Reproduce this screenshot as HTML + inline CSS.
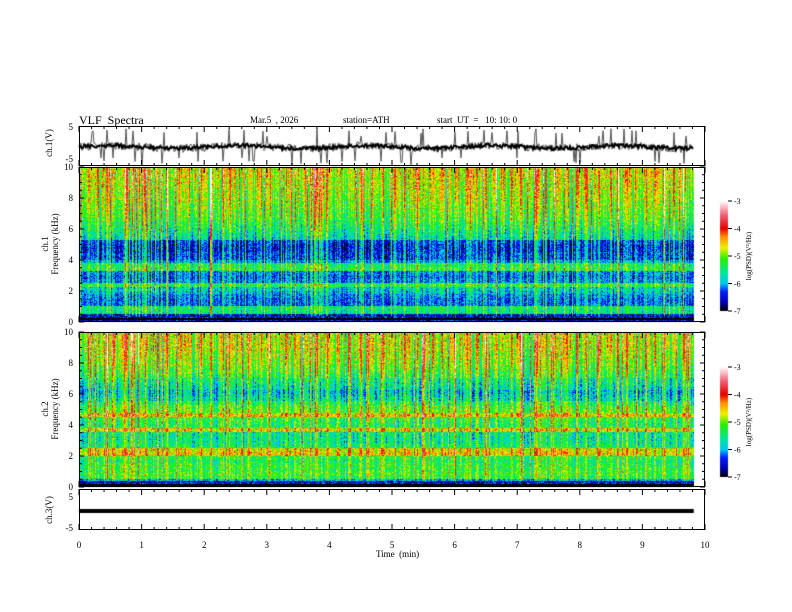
<!DOCTYPE html>
<html><head><meta charset="utf-8"><style>
body{margin:0;background:#fff;width:792px;height:612px;overflow:hidden;position:relative;font-family:"Liberation Serif",serif;}
.t{position:absolute;font-size:9px;color:#000;white-space:nowrap;}
canvas,svg{position:absolute;left:0;top:0;}
</style></head><body>
<canvas id="c" width="792" height="612"></canvas>
<svg id="s" width="792" height="612"></svg>
<div class="t" style="left:79px;top:113px;font-size:12px">VLF &nbsp;Spectra</div>
<div class="t" style="left:250px;top:115px">Mar.5 &nbsp;, 2026</div>
<div class="t" style="left:343px;top:115px">station=ATH</div>
<div class="t" style="left:437px;top:115px">start &nbsp;UT &nbsp;= &nbsp;&nbsp;10: 10: 0</div>
<div class="t" style="left:376px;top:549px">Time &nbsp;(min)</div>
<script>
// ---- data ----
const timeTicks=[0,1,2,3,4,5,6,7,8,9,10];
const freqTicks=[0,2,4,6,8,10];
const cbTicks=[-3,-4,-5,-6,-7];
// log PSD profile per 0.25 kHz band (index 0 = 0-0.25 kHz ... 39 = 9.75-10 kHz), channel 1
const prof1=[-6.8,-6.6,-5.6,-5.5,-6.2,-6.2,-6.1,-5.9,-5.8,-5.3,-6.1,-6.2,-6.1,-5.3,-5.4,-6.0,-6.3,-6.3,-6.4,-6.4,-6.3,-5.7,-5.6,-5.5,-5.4,-5.3,-5.2,-5.1,-5.1,-5.0,-5.0,-4.9,-4.9,-4.9,-4.8,-4.8,-4.8,-4.7,-4.7,-4.7];
// channel 2
const prof2=[-6.8,-6.0,-5.3,-5.2,-5.3,-5.3,-5.4,-5.3,-4.6,-4.7,-5.5,-5.6,-5.6,-5.6,-4.7,-5.4,-5.4,-5.3,-4.6,-5.1,-5.2,-5.4,-5.7,-5.8,-5.9,-5.7,-5.6,-5.5,-5.3,-5.2,-5.1,-5.0,-5.0,-4.9,-4.9,-4.8,-4.8,-4.8,-4.8,-4.8];
// impulsive (sferic) stripes: time in min, strength in log units
const stripeT=[0.15,0.3,0.45,0.55,0.75,0.85,0.95,1.05,1.25,1.4,1.6,1.75,1.95,2.1,2.3,2.4,2.55,2.75,2.9,3.05,3.3,3.45,3.6,3.8,3.95,4.15,4.3,4.5,4.7,4.85,5.05,5.2,5.4,5.5,5.65,5.8,6.0,6.2,6.35,6.5,6.65,6.9,7.05,7.3,7.45,7.6,7.8,7.95,8.1,8.3,8.5,8.6,8.75,8.9,9.05,9.2,9.35,9.5,9.65];
const stripeA=[1.0,0.7,1.1,0.8,1.3,1.4,0.9,1.1,0.8,1.0,0.7,0.9,0.8,1.1,1.0,1.3,0.8,0.9,1.1,1.0,0.8,1.1,0.9,1.4,1.0,0.8,0.9,1.1,0.7,0.9,1.0,1.1,1.4,1.3,0.9,1.0,1.1,0.8,1.0,0.9,0.8,1.1,1.0,1.4,0.8,1.0,1.1,0.9,1.0,1.3,1.1,1.4,0.9,1.0,1.1,0.8,1.0,1.1,0.9];
const dataEnd=9.82;
// ch1 waveform spike times and amplitudes (V)
const spikeT=[0.2,0.35,0.55,0.75,0.9,1.0,1.35,1.6,1.9,2.4,2.6,2.8,3.0,3.4,3.8,4.2,4.5,4.9,5.3,5.5,5.8,6.1,6.6,7.0,7.3,7.9,8.3,8.5,8.7,9.2,9.5,9.7];
const spikeA=[4,-3,-3,5,-4,-5,4,-3,-4,5,-3,-4,3,-5,5,-4,3,4,-5,5,-3,-3,4,-3,5,-4,3,5,5,-4,4,3];
// ---- layout ----
const X0=79,X1=705;
const xs=t=>X0+(X1-X0)*t/10;
const P1={top:126,bot:166}, S1={top:167,bot:322}, S2={top:332,bot:487}, P3={top:489,bot:530};
function h(i,j){let n=(i*374761393+j*668265263)|0;n=(n^(n>>>13))*1274126177|0;return ((n^(n>>>16))>>>0)/4294967296;}
const stops=[[-7,0,0,0],[-6.7,0,0,170],[-6.3,0,30,255],[-6.0,0,200,240],[-5.6,0,230,150],[-5.1,40,240,0],[-4.7,240,240,0],[-4.3,255,140,0],[-4.0,230,0,0],[-3.5,240,100,120],[-3,255,255,255]];
function col(v){if(v<=-7)return stops[0];if(v>=-3)return stops[stops.length-1];for(let k=1;k<stops.length;k++){if(v<=stops[k][0]){const a=stops[k-1],b=stops[k],f=(v-a[0])/(b[0]-a[0]);return [0,a[1]+(b[1]-a[1])*f,a[2]+(b[2]-a[2])*f,a[3]+(b[3]-a[3])*f];}}}
const cv=document.getElementById('c'),ctx=cv.getContext('2d');
function spectro(P,prof,seed){
  const W=Math.round(xs(dataEnd)-X0),H=P.bot-P.top;
  const img=ctx.createImageData(W,H);
  const colStr=[];
  for(let x=0;x<W;x++){const t=x/(X1-X0)*10;let s=0;
    for(let k=0;k<stripeT.length;k++){const d=Math.abs(t-stripeT[k]);if(d<0.025)s=Math.max(s,stripeA[k]*(1-d/0.025));}
    const r=h(x,seed);s+=(r-0.5)*1.3+(r>0.93?0.8:0);colStr.push(s);}
  for(let y=0;y<H;y++){const f=10*(H-1-y)/H;const bi=Math.min(prof.length-1,Math.floor(f/0.25));
    for(let x=0;x<W;x++){let v=prof[bi];const hf=f/10;
      v+=colStr[x]*(0.5+0.5*hf)+(h(x+seed,y)-0.5)*0.8;
      if(f<0.35) v=(h(y,seed)>0.6)?-7:-6.5+(h(x,y)-0.5);
      const c=col(v),o=(y*W+x)*4;img.data[o]=c[1];img.data[o+1]=c[2];img.data[o+2]=c[3];img.data[o+3]=255;}}
  ctx.putImageData(img,X0,P.top);
}
spectro(S1,prof1,11);spectro(S2,prof2,29);
// colorbars
function cbar(top){const g=ctx.createLinearGradient(0,top+110,0,top);
  stops.forEach(s=>g.addColorStop((s[0]+7)/4,`rgb(${s[1]},${s[2]},${s[3]})`));ctx.fillStyle=g;ctx.fillRect(720,top,8,110);}
cbar(201);cbar(367);
// waveform ch1
const yv=v=>(P1.top+P1.bot)/2+1-v*(P1.bot-P1.top)/11;
ctx.strokeStyle='#555';ctx.lineWidth=1;ctx.beginPath();
for(let x=0;x<=xs(dataEnd)-X0;x++){const t=x/(X1-X0)*10;const r=h(x,3);let v=Math.sin(t*3.1)*0.4+(r-0.5)*2.5+(r>0.95?3:0)-(r<0.04?3:0);
  for(let k=0;k<spikeT.length;k++)if(Math.abs(t-spikeT[k])<0.008)v=spikeA[k];
  const y=yv(v);x?ctx.lineTo(X0+x,y):ctx.moveTo(X0,y);}
ctx.stroke();
ctx.strokeStyle='#000';ctx.lineWidth=2;ctx.beginPath();
for(let x=0;x<=xs(dataEnd)-X0;x+=1){const t=x/(X1-X0)*10;ctx.lineTo(X0+x,yv(Math.sin(t*3.1)*0.4+(h(x,7)-0.5)*1.0));}
ctx.stroke();
// ch3 flat line
ctx.fillStyle='#000';ctx.fillRect(X0,509,xs(dataEnd)-X0,4);
// ---- axes (svg) ----
const S=document.getElementById('s');const NS='http://www.w3.org/2000/svg';
function add(tag,a,name){const e=document.createElementNS(NS,tag);for(const k in a)e.setAttribute(k,a[k]);
  
  
  S.appendChild(e);return e;}
function txt(x,y,s,name,anchor,rot,size){const e=add('text',{x:x,y:y,'font-size':size||9,'font-family':'Liberation Serif,serif','text-anchor':anchor||'middle'},name);
  if(rot)e.setAttribute('transform',`rotate(-90 ${x} ${y})`);e.textContent=s;return e;}
function frame(P,name){add('rect',{x:X0+0.5,y:P.top+0.5,width:X1-X0-1,height:P.bot-P.top-1,fill:'none',stroke:'#000','stroke-width':1},name);
  for(let m=0;m<=50;m++){const x=X0+(X1-X0)*m/50,l=m%5?3:6;
    add('line',{x1:x,x2:x,y1:P.top,y2:P.top+l,stroke:'#000'},name+'-tick-top');
    add('line',{x1:x,x2:x,y1:P.bot,y2:P.bot-l,stroke:'#000'},name+'-tick-bottom');}}
[[P1,'ch1-panel'],[S1,'ch1-spectrogram'],[S2,'ch2-spectrogram'],[P3,'ch3-panel']].forEach(p=>frame(p[0],p[1]));
function fyAxis(P,name){freqTicks.forEach(f=>{const y=P.bot-(P.bot-P.top)*f/10;txt(73,y+3,String(f),name+'-tick-label','end');
  add('line',{x1:X0,x2:X0+5,y1:y,y2:y,stroke:'#000'},name+'-tick');add('line',{x1:X1,x2:X1-5,y1:y,y2:y,stroke:'#000'},name+'-tick-right');
  if(f<10){for(let m=1;m<4;m++){const ym=y-(P.bot-P.top)*m*0.5/10;add('line',{x1:X0,x2:X0+3,y1:ym,y2:ym,stroke:'#000'},name+'-minor');add('line',{x1:X1,x2:X1-3,y1:ym,y2:ym,stroke:'#000'},name+'-minor-right');}}});}
fyAxis(S1,'ch1-freq-axis');fyAxis(S2,'ch2-freq-axis');
txt(73,130,'5','ch1-y-label','end');txt(73,162,'-5','ch1-y-label','end');
txt(73,500,'5','ch3-y-label','end');txt(73,531,'-5','ch3-y-label','end');
timeTicks.forEach(t=>txt(xs(t),548,String(t),'x-tick-label'));
txt(52,143,'ch.1(V)','ch1-axis-title','middle',true);
txt(48,244,'ch.1','ch1-freq-title','middle',true);txt(58,244,'Frequency  (kHz)','ch1-freq-title','middle',true);
txt(48,409,'ch.2','ch2-freq-title','middle',true);txt(58,409,'Frequency  (kHz)','ch2-freq-title','middle',true);
txt(52,510,'ch.3(V)','ch3-axis-title','middle',true);
[201,367].forEach((top,i)=>{cbTicks.forEach(v=>{const y=top+110*(-3-v)/4;add('line',{x1:728,x2:732,y1:y,y2:y,stroke:'#000'},'colorbar-tick');
  txt(734,y+3,String(v),'colorbar-label','start',false,8);});
  txt(751,top+55,'log(PSD)(V²/Hz)','colorbar-title','middle',true,7);});
</script>
</body></html>
